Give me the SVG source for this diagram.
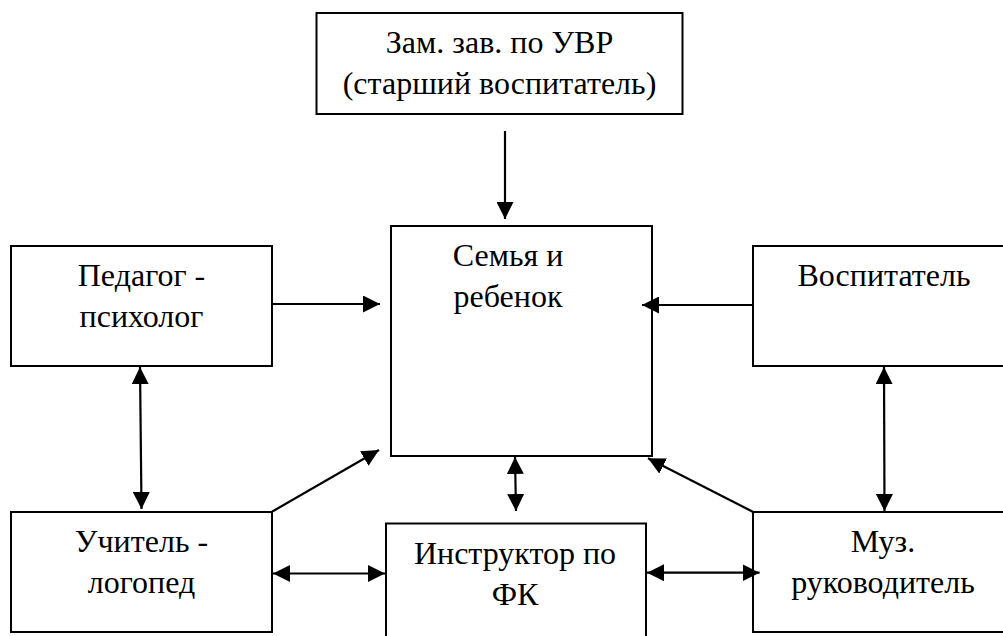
<svg xmlns="http://www.w3.org/2000/svg" width="1003" height="636" viewBox="0 0 1003 636">
<style>
.box{fill:#fff;stroke:#000;stroke-width:2}
.lbl{font-family:"Liberation Serif","Times New Roman",serif;font-size:32px;fill:#000;text-anchor:middle}
.cn{stroke:#000;stroke-width:2.2;fill:none}
</style>
<defs>
<marker id="ah" markerUnits="userSpaceOnUse" markerWidth="17" markerHeight="17" viewBox="0 0 16 16" refX="16" refY="8" orient="auto-start-reverse">
<path d="M0,0 L16,8 L0,16 z" fill="#000"/>
</marker>
</defs>
<rect width="1003" height="636" fill="#fff"/>
<g id="n-zam">
<rect class="box" x="316.5" y="13" width="366" height="101"/>
<text class="lbl" x="499.5" y="53">Зам. зав. по УВР</text>
<text class="lbl" x="499.5" y="94">(старший воспитатель)</text>
</g>
<g id="n-family">
<rect class="box" x="391" y="226" width="261" height="230"/>
<text class="lbl" x="508" y="266">Семья и</text>
<text class="lbl" x="508" y="307">ребенок</text>
</g>
<g id="n-psych">
<rect class="box" x="11" y="246" width="261" height="120"/>
<text class="lbl" x="141.5" y="286">Педагог -</text>
<text class="lbl" x="141.5" y="327">психолог</text>
</g>
<g id="n-vosp">
<rect class="box" x="753" y="246" width="262" height="120"/>
<text class="lbl" x="884" y="286">Воспитатель</text>
</g>
<g id="n-logo">
<rect class="box" x="11" y="512" width="261" height="120"/>
<text class="lbl" x="141.5" y="552">Учитель -</text>
<text class="lbl" x="141.5" y="593">логопед</text>
</g>
<g id="n-fk">
<rect class="box" x="386" y="523.5" width="260" height="120"/>
<text class="lbl" x="515" y="563.5">Инструктор по</text>
<text class="lbl" x="515" y="604.5">ФК</text>
</g>
<g id="n-muz">
<rect class="box" x="753" y="512" width="262" height="120"/>
<text class="lbl" x="883" y="552">Муз.</text>
<text class="lbl" x="883" y="593">руководитель</text>
</g>
<g id="connectors">
<line class="cn" x1="505" y1="131" x2="505" y2="219" marker-end="url(#ah)"/>
<line class="cn" x1="272" y1="304" x2="380" y2="304" marker-end="url(#ah)"/>
<line class="cn" x1="753" y1="305" x2="642" y2="305" marker-end="url(#ah)"/>
<line class="cn" x1="140" y1="367" x2="141.5" y2="509" marker-start="url(#ah)" marker-end="url(#ah)"/>
<line class="cn" x1="884" y1="367" x2="884.5" y2="511" marker-start="url(#ah)" marker-end="url(#ah)"/>
<line class="cn" x1="515" y1="457" x2="516" y2="511" marker-start="url(#ah)" marker-end="url(#ah)"/>
<line class="cn" x1="273" y1="573.5" x2="385" y2="573.5" marker-start="url(#ah)" marker-end="url(#ah)"/>
<line class="cn" x1="647" y1="572.7" x2="759.6" y2="572.7" marker-start="url(#ah)" marker-end="url(#ah)"/>
<line class="cn" x1="272" y1="511.7" x2="379" y2="450" marker-end="url(#ah)"/>
<line class="cn" x1="752.7" y1="511.7" x2="648" y2="458.3" marker-end="url(#ah)"/>
</g>
</svg>
